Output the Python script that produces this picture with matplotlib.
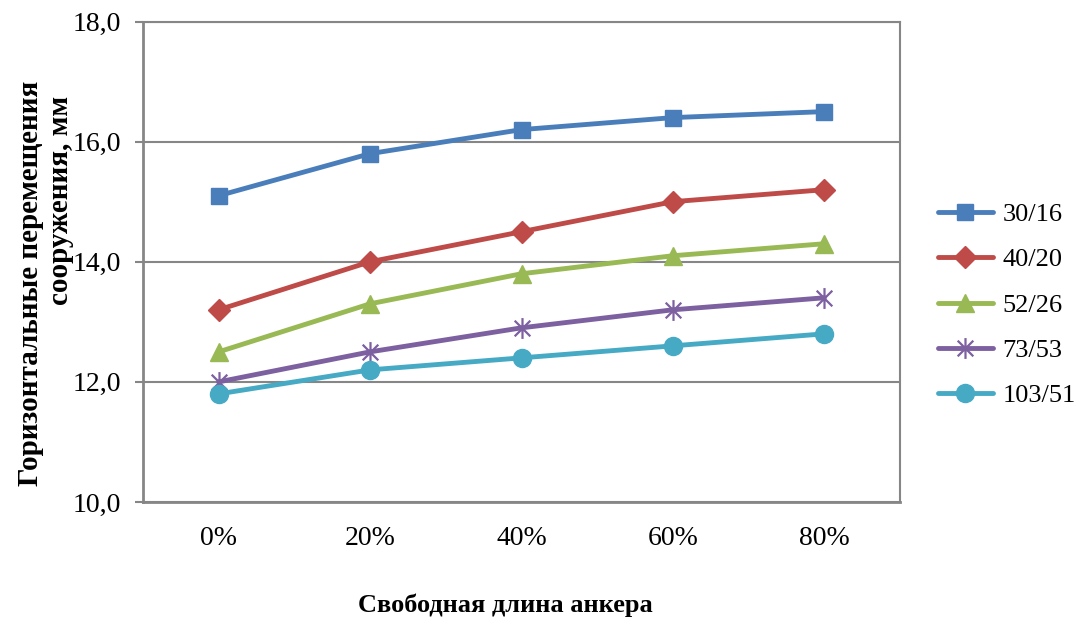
import matplotlib
matplotlib.use("Agg")
import matplotlib.pyplot as plt
from matplotlib.path import Path

plt.rcParams['font.family'] = ['Liberation Serif', 'DejaVu Serif']

categories = ['0%', '20%', '40%', '60%', '80%']
series_names = ['30/16', '40/20', '52/26', '73/53', '103/51']
s_30_16 = [15.1, 15.8, 16.2, 16.4, 16.5]
s_40_20 = [13.2, 14.0, 14.5, 15.0, 15.2]
s_52_26 = [12.5, 13.3, 13.8, 14.1, 14.3]
s_73_53 = [12.0, 12.5, 12.9, 13.2, 13.4]
s_103_51 = [11.8, 12.2, 12.4, 12.6, 12.8]
y_ticks = [10.0, 12.0, 14.0, 16.0, 18.0]

# asterisk marker: vertical stroke plus an X
star = Path([(0, -1), (0, 1), (-0.75, -0.75), (0.75, 0.75), (-0.75, 0.75), (0.75, -0.75)],
            [Path.MOVETO, Path.LINETO, Path.MOVETO, Path.LINETO, Path.MOVETO, Path.LINETO])

styles = [
    dict(color='#4A7EBB', marker='s', ms=11.5),
    dict(color='#BE4B48', marker='D', ms=11),
    dict(color='#98B954', marker='^', ms=13),
    dict(color='#7D60A0', marker=star, ms=15, mew=1.6),
    dict(color='#46AAC5', marker='o', ms=13),
]

W, H = 1082, 619
fig = plt.figure(figsize=(W / 100, H / 100), dpi=100)
ax = fig.add_axes([143 / W, 1 - 502 / H, (900 - 143) / W, (502 - 21.5) / H])

x = list(range(len(categories)))
data = [s_30_16, s_40_20, s_52_26, s_73_53, s_103_51]
for name, vals, st in zip(series_names, data, styles):
    ax.plot(x, vals, color=st['color'], lw=3.5, marker=st['marker'],
            markersize=st['ms'], markerfacecolor=st['color'],
            markeredgecolor=st['color'], markeredgewidth=st.get('mew', 1),
            label=name, solid_capstyle='round', zorder=3)

grid_c = '#868686'
ax.set_xlim(-0.5, len(categories) - 0.5)
ax.set_ylim(10, 18)
ax.set_yticks(y_ticks)
ax.set_yticklabels([f"{v:.1f}".replace('.', ',') for v in y_ticks])
ax.set_xticks(x)
ax.set_xticklabels(categories)
ax.yaxis.grid(True, color=grid_c, lw=1.5, zorder=0)
ax.set_axisbelow(True)
for side in ['left', 'bottom', 'right', 'top']:
    ax.spines[side].set_color(grid_c)
ax.spines['left'].set_linewidth(2)
ax.spines['bottom'].set_linewidth(2)
ax.spines['right'].set_linewidth(1.5)
ax.spines['top'].set_linewidth(1.5)
ax.tick_params(axis='y', length=5.5, width=1.5, color=grid_c, pad=10, labelsize=20)
ax.tick_params(axis='x', length=0, pad=17, labelsize=20)

fig.text(505 / W, 1 - 605 / H, 'Свободная длина анкера', ha='center', va='center',
         fontsize=19, fontweight='bold')
fig.text(31 / W, 1 - 283 / H, 'Горизонтальные перемещения', ha='center', va='center',
         rotation=90, fontsize=21, fontweight='bold')
fig.text(61 / W, 1 - 200 / H, 'сооружения, мм', ha='center', va='center',
         rotation=90, fontsize=21, fontweight='bold')

ax.legend(loc='center left', bbox_to_anchor=(938 / W, 1 - 305 / H),
          bbox_transform=fig.transFigure, frameon=False, fontsize=19,
          handlelength=2.07, handletextpad=0.37, labelspacing=0.83, borderpad=0,
          borderaxespad=0)

fig.savefig('out.png', dpi=100)
